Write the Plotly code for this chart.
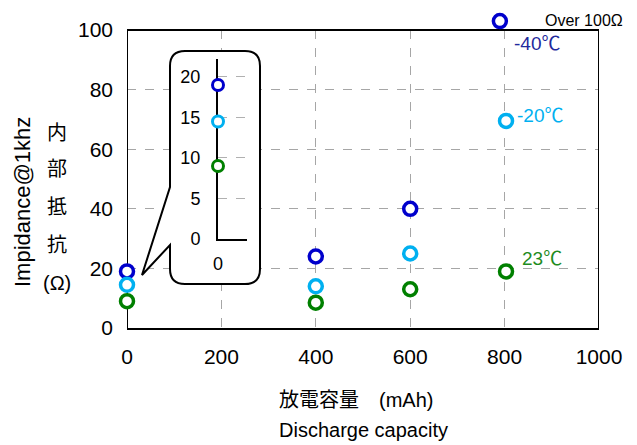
import plotly.graph_objects as go

# ---------------- data ----------------
series_names = ["-40℃", "-20℃", "23℃"]
cap_m40 = [0, 400, 600, 790]
imp_m40 = [19, 24, 40, 103]
cap_m20 = [0, 400, 600, 803]
imp_m20 = [14.5, 14, 25, 69.5]
cap_23 = [0, 400, 600, 803]
imp_23 = [9, 8.5, 13, 19]
x_ticks = [0, 200, 400, 600, 800, 1000]
y_ticks = [0, 20, 40, 60, 80, 100]
inset_ticks = [0, 5, 10, 15, 20]
X_MAX = 1000
Y_FRAME_TOP = 100

marker_colors = ["#0000CC", "#00B0F0", "#008000"]
label_colors = ["#1F2A9C", "#00B0F0", "#1E8C1E"]

OFF = 8                     # page body margin
W, H = 637 - OFF, 445 - OFF
FONT = "Liberation Sans, Arial, Noto Sans CJK JP, sans-serif"

# main plot area in page pixels
PL, PR, PT, PB = 127, 599, 30, 328
DOMAIN_TOP = 12             # extra room above the frame for the >100 point
# inset axes in page pixels
IL, IR, IT, IB = 218, 247, 59, 239
INSET_TOP = 22.2


def px(x):
    return (x - OFF) / W


def py(y):
    return 1 - (y - OFF) / H


def dx(x):  # page pixel -> main data x
    return (x - PL) / (PR - PL) * X_MAX


def dy(y):  # page pixel -> main data y
    return (PB - y) / (PB - PT) * Y_FRAME_TOP


Y_RANGE_TOP = dy(DOMAIN_TOP)

fig = go.Figure()

all_x = [cap_m40, cap_m20, cap_23]
all_y = [imp_m40, imp_m20, imp_23]
for name, xs, ys, c in zip(series_names, all_x, all_y, marker_colors):
    fig.add_trace(go.Scatter(
        x=xs, y=ys, mode="markers", name=name, cliponaxis=False,
        marker=dict(size=13, color="white", line=dict(color=c, width=3.5)),
        xaxis="x", yaxis="y", showlegend=False,
    ))

# inset: zoom of the values at 0 mAh
for name, xs, ys, c in zip(series_names, all_x, all_y, marker_colors):
    fig.add_trace(go.Scatter(
        x=[xs[0]], y=[ys[0]], mode="markers", name=name, cliponaxis=False,
        marker=dict(size=11, color="white", line=dict(color=c, width=3)),
        xaxis="x2", yaxis="y2", showlegend=False,
    ))

# hide grid above the frame, then draw the frame edges
fig.add_shape(type="rect", x0=0, x1=X_MAX, y0=Y_FRAME_TOP, y1=Y_RANGE_TOP,
              xref="x", yref="y", layer="between", fillcolor="white",
              line=dict(width=0))
frame = dict(xref="x", yref="y", layer="between", line=dict(color="black", width=2))
fig.add_shape(type="line", x0=0, x1=X_MAX, y0=Y_FRAME_TOP, y1=Y_FRAME_TOP, **frame)
fig.add_shape(type="line", x0=X_MAX, x1=X_MAX, y0=0, y1=Y_FRAME_TOP, **frame)
fig.add_shape(type="line", x0=0, x1=0, y0=0, y1=Y_FRAME_TOP, **frame)

# callout bubble (pixel outline converted to main-axis units)
pts = [
    ("M", 185, 51), ("L", 245, 51), ("Q", 260, 51, 260, 66), ("L", 260, 269),
    ("Q", 260, 284, 245, 284), ("L", 185, 284), ("Q", 170, 284, 170, 269),
    ("L", 170, 245), ("L", 142, 275), ("L", 170, 187), ("L", 170, 66),
    ("Q", 170, 51, 185, 51),
]
path = ""
for p in pts:
    cmd = p[0]
    coords = p[1:]
    seg = []
    for i in range(0, len(coords), 2):
        seg.append(f"{dx(coords[i]):.3f},{dy(coords[i+1]):.3f}")
    path += cmd + " ".join(seg) + " "
path += "Z"
fig.add_shape(type="path", path=path, xref="x", yref="y", layer="between",
              fillcolor="white", line=dict(color="black", width=2))

ann = []
# y-axis titles
ann.append(dict(text="Impidance@1khz", x=px(22), y=py(202), textangle=-90,
                xanchor="center", font=dict(size=22, color="black")))
for ch, yy in zip(["内", "部", "抵", "抗", "(Ω)"], [133, 169, 207, 245, 283]):
    ann.append(dict(text=ch, x=px(57), y=py(yy), xanchor="center",
                    font=dict(size=20, color="black")))
# x-axis titles
ann.append(dict(text="放電容量\u3000(mAh)", x=px(277), y=py(400), xanchor="left",
                font=dict(size=20, color="black")))
ann.append(dict(text="Discharge capacity", x=px(277), y=py(430), xanchor="left",
                font=dict(size=20, color="black")))
# series labels
ann.append(dict(text="Over 100Ω", x=px(624), y=py(20), xanchor="right",
                borderpad=0, font=dict(size=16, color="black")))
for name, c, (lx, ly) in zip(series_names, label_colors,
                             [(512, 44), (515, 115), (520, 258)]):
    ann.append(dict(text=name, x=px(lx), y=py(ly), xanchor="left",
                    font=dict(size=19, color=c)))
for a in ann:
    a.update(xref="paper", yref="paper", showarrow=False, yanchor="middle")

grid = dict(showgrid=True, gridcolor="#A6A6A6", griddash="dash", gridwidth=1)
fig.update_layout(
    width=W, height=H,
    margin=dict(l=0, r=0, t=0, b=0, autoexpand=False),
    paper_bgcolor="white", plot_bgcolor="rgba(0,0,0,0)",
    font=dict(family=FONT, size=20, color="black"),
    showlegend=False,
    annotations=ann,
    xaxis=dict(domain=[px(PL), px(PR)], range=[0, X_MAX], tickvals=x_ticks,
               showline=True, linecolor="black", linewidth=2, mirror=False,
               zeroline=False, ticks="", ticklabelstandoff=9, layer="below traces",
               tickfont=dict(size=21), anchor="y", automargin=False, **grid),
    yaxis=dict(domain=[py(PB), py(DOMAIN_TOP)], range=[0, Y_RANGE_TOP], tickvals=y_ticks,
               showline=False, zeroline=False, ticks="", ticklabelstandoff=13,
               layer="below traces",
               tickfont=dict(size=21), anchor="x", automargin=False, **grid),
    xaxis2=dict(domain=[px(IL), px(IR)], range=[0, 1000], tickvals=[0],
                showline=True, linecolor="black", linewidth=2,
                showgrid=False, zeroline=False, ticks="", ticklabelstandoff=7,
                tickfont=dict(size=18), anchor="y2", layer="below traces",
                automargin=False),
    yaxis2=dict(domain=[py(IB), py(IT)], range=[0, INSET_TOP], tickvals=inset_ticks,
                showline=True, linecolor="black", linewidth=2,
                showgrid=True, gridcolor="#B0B0B0", griddash="dash", gridwidth=1,
                zeroline=False, ticks="", ticklabelstandoff=12,
                tickfont=dict(size=18), anchor="x2", layer="below traces",
                automargin=False),
)

fig.write_html("out.html")
